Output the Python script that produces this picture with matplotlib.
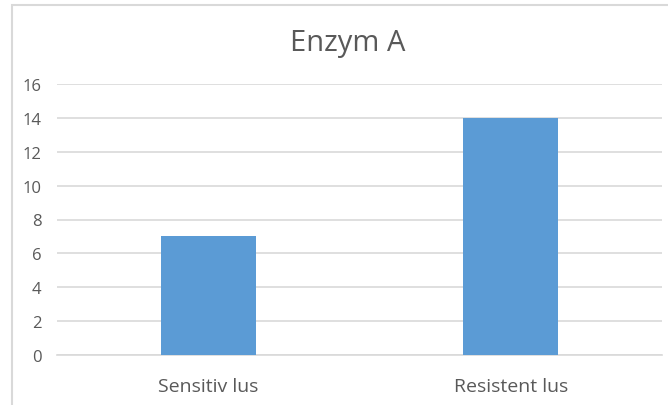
import matplotlib
matplotlib.use("Agg")
import matplotlib.pyplot as plt
from matplotlib.patches import Rectangle

# data
kategorier = ["Sensitiv lus", "Resistent lus"]
verdier = [7, 14]
y_ticks = [0, 2, 4, 6, 8, 10, 12, 14, 16]

plt.rcParams['font.family'] = ['Open Sans', 'DejaVu Sans']

fig = plt.figure(figsize=(6.68, 4.06), dpi=100)
fig.patch.set_facecolor("white")

# ramme rundt diagrammet
fig.patches.append(Rectangle((12 / 668, -0.1), 1.2, 1 - 6 / 406 + 0.1,
                             transform=fig.transFigure, fill=False,
                             edgecolor="#D9D9D9", linewidth=1.5))

ax = fig.add_axes([57 / 668, 1 - 356 / 406, 605 / 668, (356 - 85) / 406])
x = list(range(len(kategorier)))
ax.bar(x, verdier, width=0.314, color="#5B9BD5", zorder=3)

ax.set_xlim(-0.5, 1.5)
ax.set_ylim(0, 16)
ax.set_yticks(y_ticks)
ax.set_xticks(x)
ax.set_xticklabels(kategorier, fontsize=14, color="#595959")
ax.tick_params(axis="y", labelsize=12, labelcolor="#595959", length=0, pad=11)
ax.tick_params(axis="x", length=0, pad=15.5)
ax.grid(axis="y", color="#D9D9D9", linewidth=1.2, zorder=0)
for s in ["top", "right", "left"]:
    ax.spines[s].set_visible(False)
ax.spines["bottom"].set_color("#D9D9D9")
ax.spines["bottom"].set_linewidth(1.2)

fig.text(348 / 668, 1 - 43 / 406, "Enzym A", ha="center", va="center",
         fontsize=21, color="#595959")

fig.savefig("out.png", dpi=100)
